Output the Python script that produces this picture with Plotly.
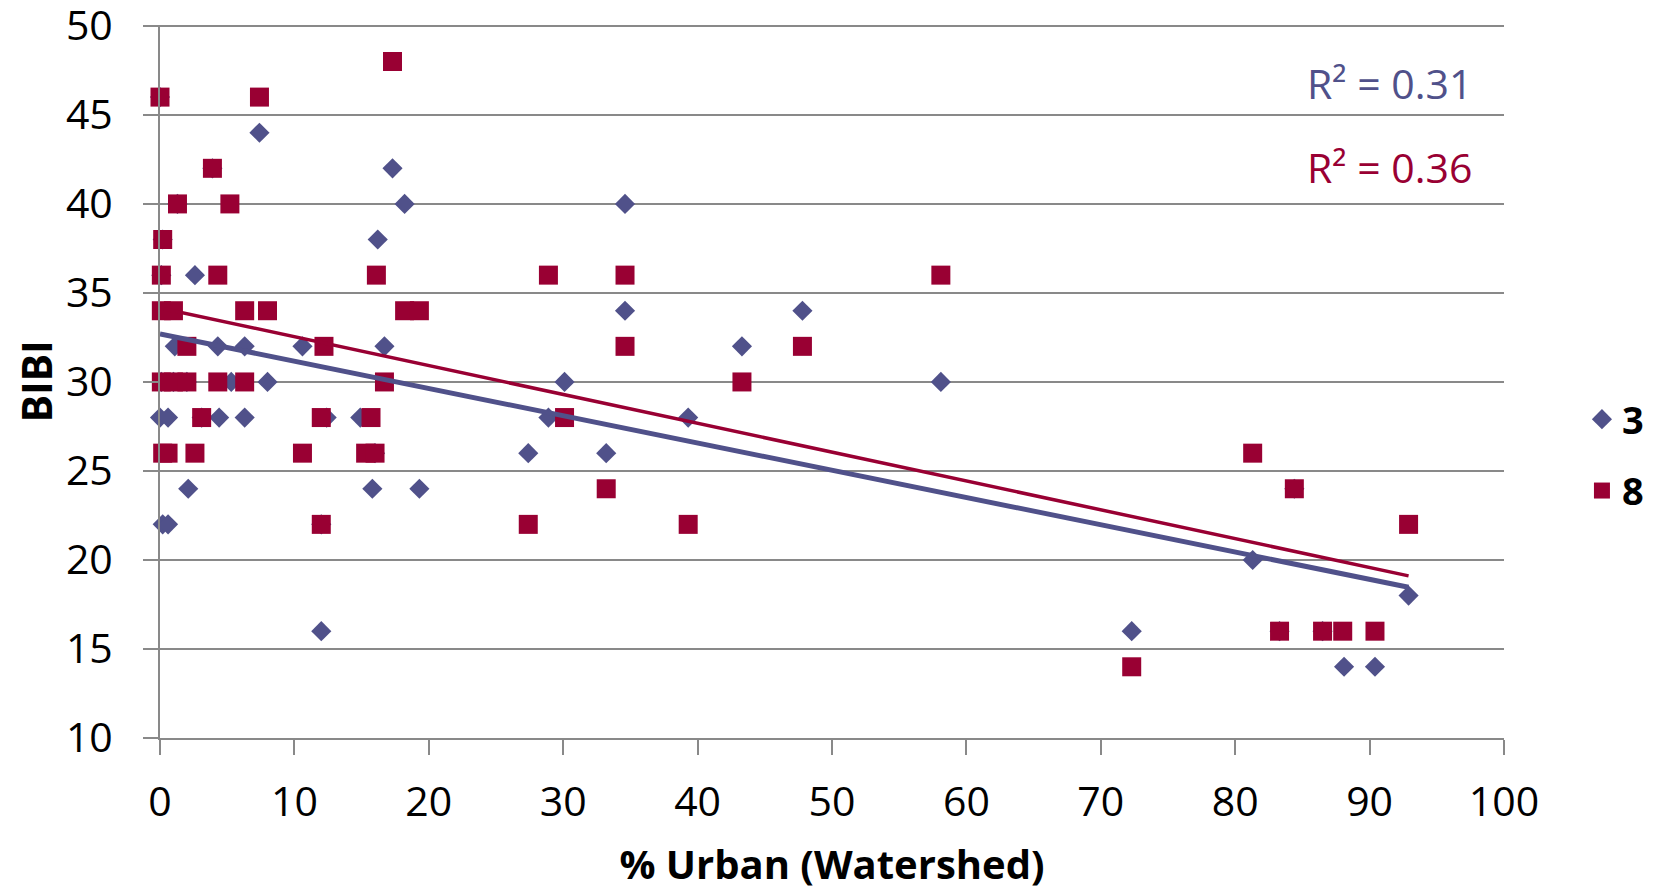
import numpy as np
import plotly.graph_objects as go

# Series "3" (diamonds)
x3 = [0.0, 7.4, 17.3, 3.9, 18.2, 1.3, 34.6, 16.2, 0.2, 2.6, 0.1, 34.6, 47.8,
      1.1, 4.3, 6.3, 10.6, 16.7, 43.3, 0.1, 1.0, 2.0, 5.3, 8.0, 30.1, 58.1,
      0.0, 0.6, 3.1, 4.4, 6.3, 12.4, 14.9, 28.9, 39.3, 16.0, 27.4, 33.2,
      2.1, 15.8, 19.3, 84.4, 0.2, 0.6, 12.0, 81.3, 92.9, 12.0, 72.3, 83.3,
      86.5, 88.1, 90.4]
y3 = [46, 44, 42, 42, 40, 40, 40, 38, 38, 36, 36, 34, 34,
      32, 32, 32, 32, 32, 32, 30, 30, 30, 30, 30, 30, 30,
      28, 28, 28, 28, 28, 28, 28, 28, 28, 26, 26, 26,
      24, 24, 24, 24, 22, 22, 22, 20, 18, 16, 16, 16,
      16, 14, 14]

# Series "8" (squares)
x8 = [0.0, 7.4, 17.3, 3.9, 1.3, 5.2, 0.2, 0.1, 4.3, 16.1, 28.9, 34.6, 58.1,
      0.1, 1.0, 6.3, 8.0, 18.2, 19.3, 2.0, 12.2, 34.6, 47.8,
      0.1, 1.0, 2.0, 4.3, 6.3, 16.7, 43.3, 3.1, 12.0, 15.7, 30.1,
      0.2, 0.6, 2.6, 10.6, 15.3, 16.0, 81.3, 33.2, 84.4,
      12.0, 27.4, 39.3, 92.9, 83.3, 86.5, 88.0, 90.4, 72.3]
y8 = [46, 46, 48, 42, 40, 40, 38, 36, 36, 36, 36, 36, 36,
      34, 34, 34, 34, 34, 34, 32, 32, 32, 32,
      30, 30, 30, 30, 30, 30, 30, 28, 28, 28, 28,
      26, 26, 26, 26, 26, 26, 26, 24, 24,
      22, 22, 22, 22, 16, 16, 16, 16, 14]

series_names = ["3", "8"]
r2_labels = ["R² = 0.31", "R² = 0.36"]
x_ticks = [0, 10, 20, 30, 40, 50, 60, 70, 80, 90, 100]
y_ticks = [10, 15, 20, 25, 30, 35, 40, 45, 50]

C3 = "#50518A"
C8 = "#990033"
GRID = "#898989"
FONT = "Open Sans"

def trend(x, y):
    x = np.asarray(x, float)
    y = np.asarray(y, float)
    m, b = np.polyfit(x, y, 1)
    xs = np.array([x.min(), x.max()])
    return xs, m * xs + b

fig = go.Figure()

tx3, ty3 = trend(x3, y3)
tx8, ty8 = trend(x8, y8)

fig.add_trace(go.Scatter(x=x3, y=y3, mode="markers", name=series_names[0],
                         legendgroup="a", cliponaxis=False,
                         marker=dict(symbol="diamond", size=15.5, color=C3,
                                     line=dict(width=0))))
fig.add_trace(go.Scatter(x=x8, y=y8, mode="markers", name=series_names[1],
                         legendgroup="b", cliponaxis=False,
                         marker=dict(symbol="square", size=19, color=C8,
                                     line=dict(width=0))))
fig.add_trace(go.Scatter(x=tx3, y=ty3, mode="lines", showlegend=False,
                         line=dict(color=C3, width=5), hoverinfo="skip"))
fig.add_trace(go.Scatter(x=tx8, y=ty8, mode="lines", showlegend=False,
                         line=dict(color=C8, width=3.5), hoverinfo="skip"))

fig.add_annotation(x=91.5, y=46.8, xref="x", yref="y", text=r2_labels[0],
                   showarrow=False, xanchor="center", yanchor="middle",
                   font=dict(family=FONT, size=41, color=C3))
fig.add_annotation(x=91.5, y=42.1, xref="x", yref="y", text=r2_labels[1],
                   showarrow=False, xanchor="center", yanchor="middle",
                   font=dict(family=FONT, size=41, color=C8))

# top gridline at the upper end of the y range
fig.add_shape(type="line", xref="paper", yref="y", x0=0, x1=1,
              y0=y_ticks[-1], y1=y_ticks[-1], layer="below",
              line=dict(color=GRID, width=2))

axis_common = dict(
    showline=True, linecolor=GRID, linewidth=2,
    ticks="outside", ticklen=15, tickwidth=2, tickcolor=GRID,
    tickfont=dict(family=FONT, size=41, color="black"),
    ticklabeloverflow="allow",
    zeroline=False,
)

fig.update_xaxes(range=[0, 100], tickvals=x_ticks, showgrid=False,
                 ticklabelstandoff=12,
                 title=dict(text="<b>% Urban (Watershed)</b>", standoff=29,
                            font=dict(family=FONT, size=40, color="black")),
                 **axis_common)
fig.update_yaxes(range=[10, 50.05], tickvals=y_ticks, showgrid=True,
                 gridcolor=GRID, gridwidth=2,
                 ticklabelstandoff=22,
                 title=dict(text="<b>BIBI</b>", standoff=17,
                            font=dict(family=FONT, size=41, color="black")),
                 **axis_common)

fig.update_layout(
    width=1656, height=883,
    margin=dict(l=152, r=160, t=17, b=153, autoexpand=False),
    plot_bgcolor="white", paper_bgcolor="white",
    showlegend=True,
    legend=dict(x=1.058, xanchor="left", y=0.397, yanchor="middle",
                font=dict(family=FONT, size=38, color="black", weight="bold"),
                tracegroupgap=19, traceorder="grouped",
                bgcolor="rgba(0,0,0,0)"),
)

fig.write_html("out.html")
